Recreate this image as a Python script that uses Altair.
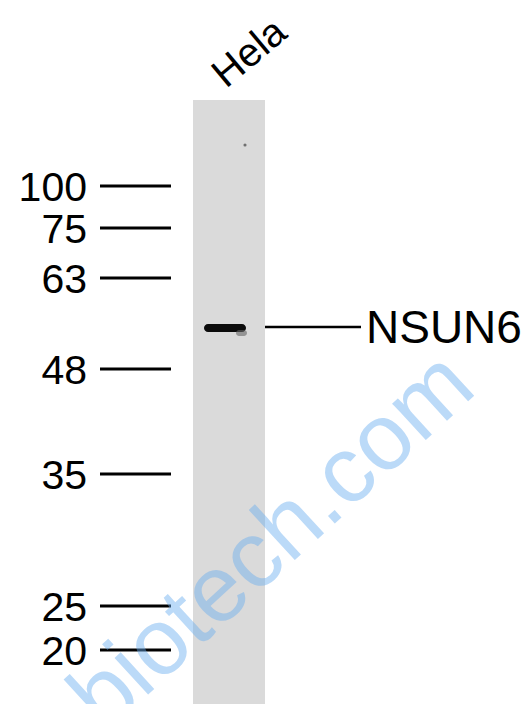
import altair as alt
import pandas as pd

# ---- data read from the blot ----
marker_labels = ["100", "75", "63", "48", "35", "25", "20"]
marker_pos = [186, 228, 278, 369, 474, 606, 650]   # migration position of each ladder band
lane_names = ["Hela"]
target_name = "NSUN6"
target_pos = 328                                   # migration position of the detected band
watermark = "biotech.com"

FONT = "Liberation Sans"
W, H = 513, 696
xs = alt.Scale(domain=[8, 8 + W])
ys = alt.Scale(domain=[8, 8 + H], reverse=True)

def X(f, **k):
    return alt.X(f, type="quantitative", scale=xs, axis=None, **k)

def Y(f, **k):
    return alt.Y(f, type="quantitative", scale=ys, axis=None, **k)

# lane
lane_df = pd.DataFrame({"lane": lane_names, "x0": [193], "x1": [265], "y0": [100], "y1": [704]})
lane = alt.Chart(lane_df).mark_rect(color="#dadada").encode(
    x=X("x0"), x2="x1", y=Y("y0"), y2="y1")

# ladder
mk_df = pd.DataFrame({"mw": marker_labels, "pos": marker_pos})
mk_df["x0"] = 100
mk_df["x1"] = 171
mk_df["xt"] = 87
mk_rules = alt.Chart(mk_df).mark_rule(color="#000000", strokeWidth=3).encode(
    x=X("x0"), x2="x1", y=Y("pos"))
mk_text = alt.Chart(mk_df).mark_text(
    align="right", baseline="alphabetic", dy=15, font=FONT, fontSize=41, color="#000000"
).encode(x=X("xt"), y=Y("pos"), text="mw:N")

# band
band_df = pd.DataFrame({"name": [target_name], "pos": [target_pos]})
band_df["x0"] = 204
band_df["x1"] = 246
band_df["t"] = band_df["pos"] - 4
band_df["b"] = band_df["pos"] + 4
band = alt.Chart(band_df).mark_rect(color="#0b0b0b", cornerRadius=4).encode(
    x=X("x0"), x2="x1", y=Y("t"), y2="b")
tail_df = band_df.copy()
tail_df["x0"] = 236
tail_df["x1"] = 247
tail_df["t"] = band_df["pos"] + 2
tail_df["b"] = band_df["pos"] + 8
tail = alt.Chart(tail_df).mark_rect(color="#666666", cornerRadius=3, opacity=0.6).encode(
    x=X("x0"), x2="x1", y=Y("t"), y2="b")

# target label
lab_df = band_df.copy()
lab_df["lx0"] = 265
lab_df["lx1"] = 361
lab_df["ly"] = band_df["pos"] - 1
lab_df["tx"] = 366
lab_rule = alt.Chart(lab_df).mark_rule(color="#000000", strokeWidth=2.5).encode(
    x=X("lx0"), x2="lx1", y=Y("ly"))
lab_text = alt.Chart(lab_df).mark_text(
    align="left", baseline="alphabetic", dy=16, font=FONT, fontSize=46, color="#000000"
).encode(x=X("tx"), y=Y("ly"), text="name:N")

# lane name
ln_df = pd.DataFrame({"lane": lane_names, "x": [226], "y": [89]})
lane_text = alt.Chart(ln_df).mark_text(
    align="left", baseline="alphabetic", angle=320, font=FONT, fontSize=40, color="#000000"
).encode(x=X("x"), y=Y("y"), text="lane:N")

# small speck in lane
sp_df = pd.DataFrame({"x": [245], "y": [145]})
speck = alt.Chart(sp_df).mark_circle(color="#555555", size=10, opacity=0.8).encode(
    x=X("x"), y=Y("y"))

# watermark
wm_df = pd.DataFrame({"t": [watermark], "x": [105], "y": [734]})
wm = alt.Chart(wm_df).mark_text(
    align="left", baseline="alphabetic", angle=317.5, font=FONT, fontSize=94,
    color="#6aaef0", opacity=0.45
).encode(x=X("x"), y=Y("y"), text="t:N")

chart = alt.layer(lane, mk_rules, mk_text, band, tail, lab_rule, lab_text, lane_text, speck, wm).properties(
    width=W, height=H, padding=0, autosize=alt.AutoSizeParams(type="none"), background="#ffffff"
).configure_view(stroke=None, clip=False)

chart.save("out.html", embed_options={"renderer": "svg", "actions": False})
